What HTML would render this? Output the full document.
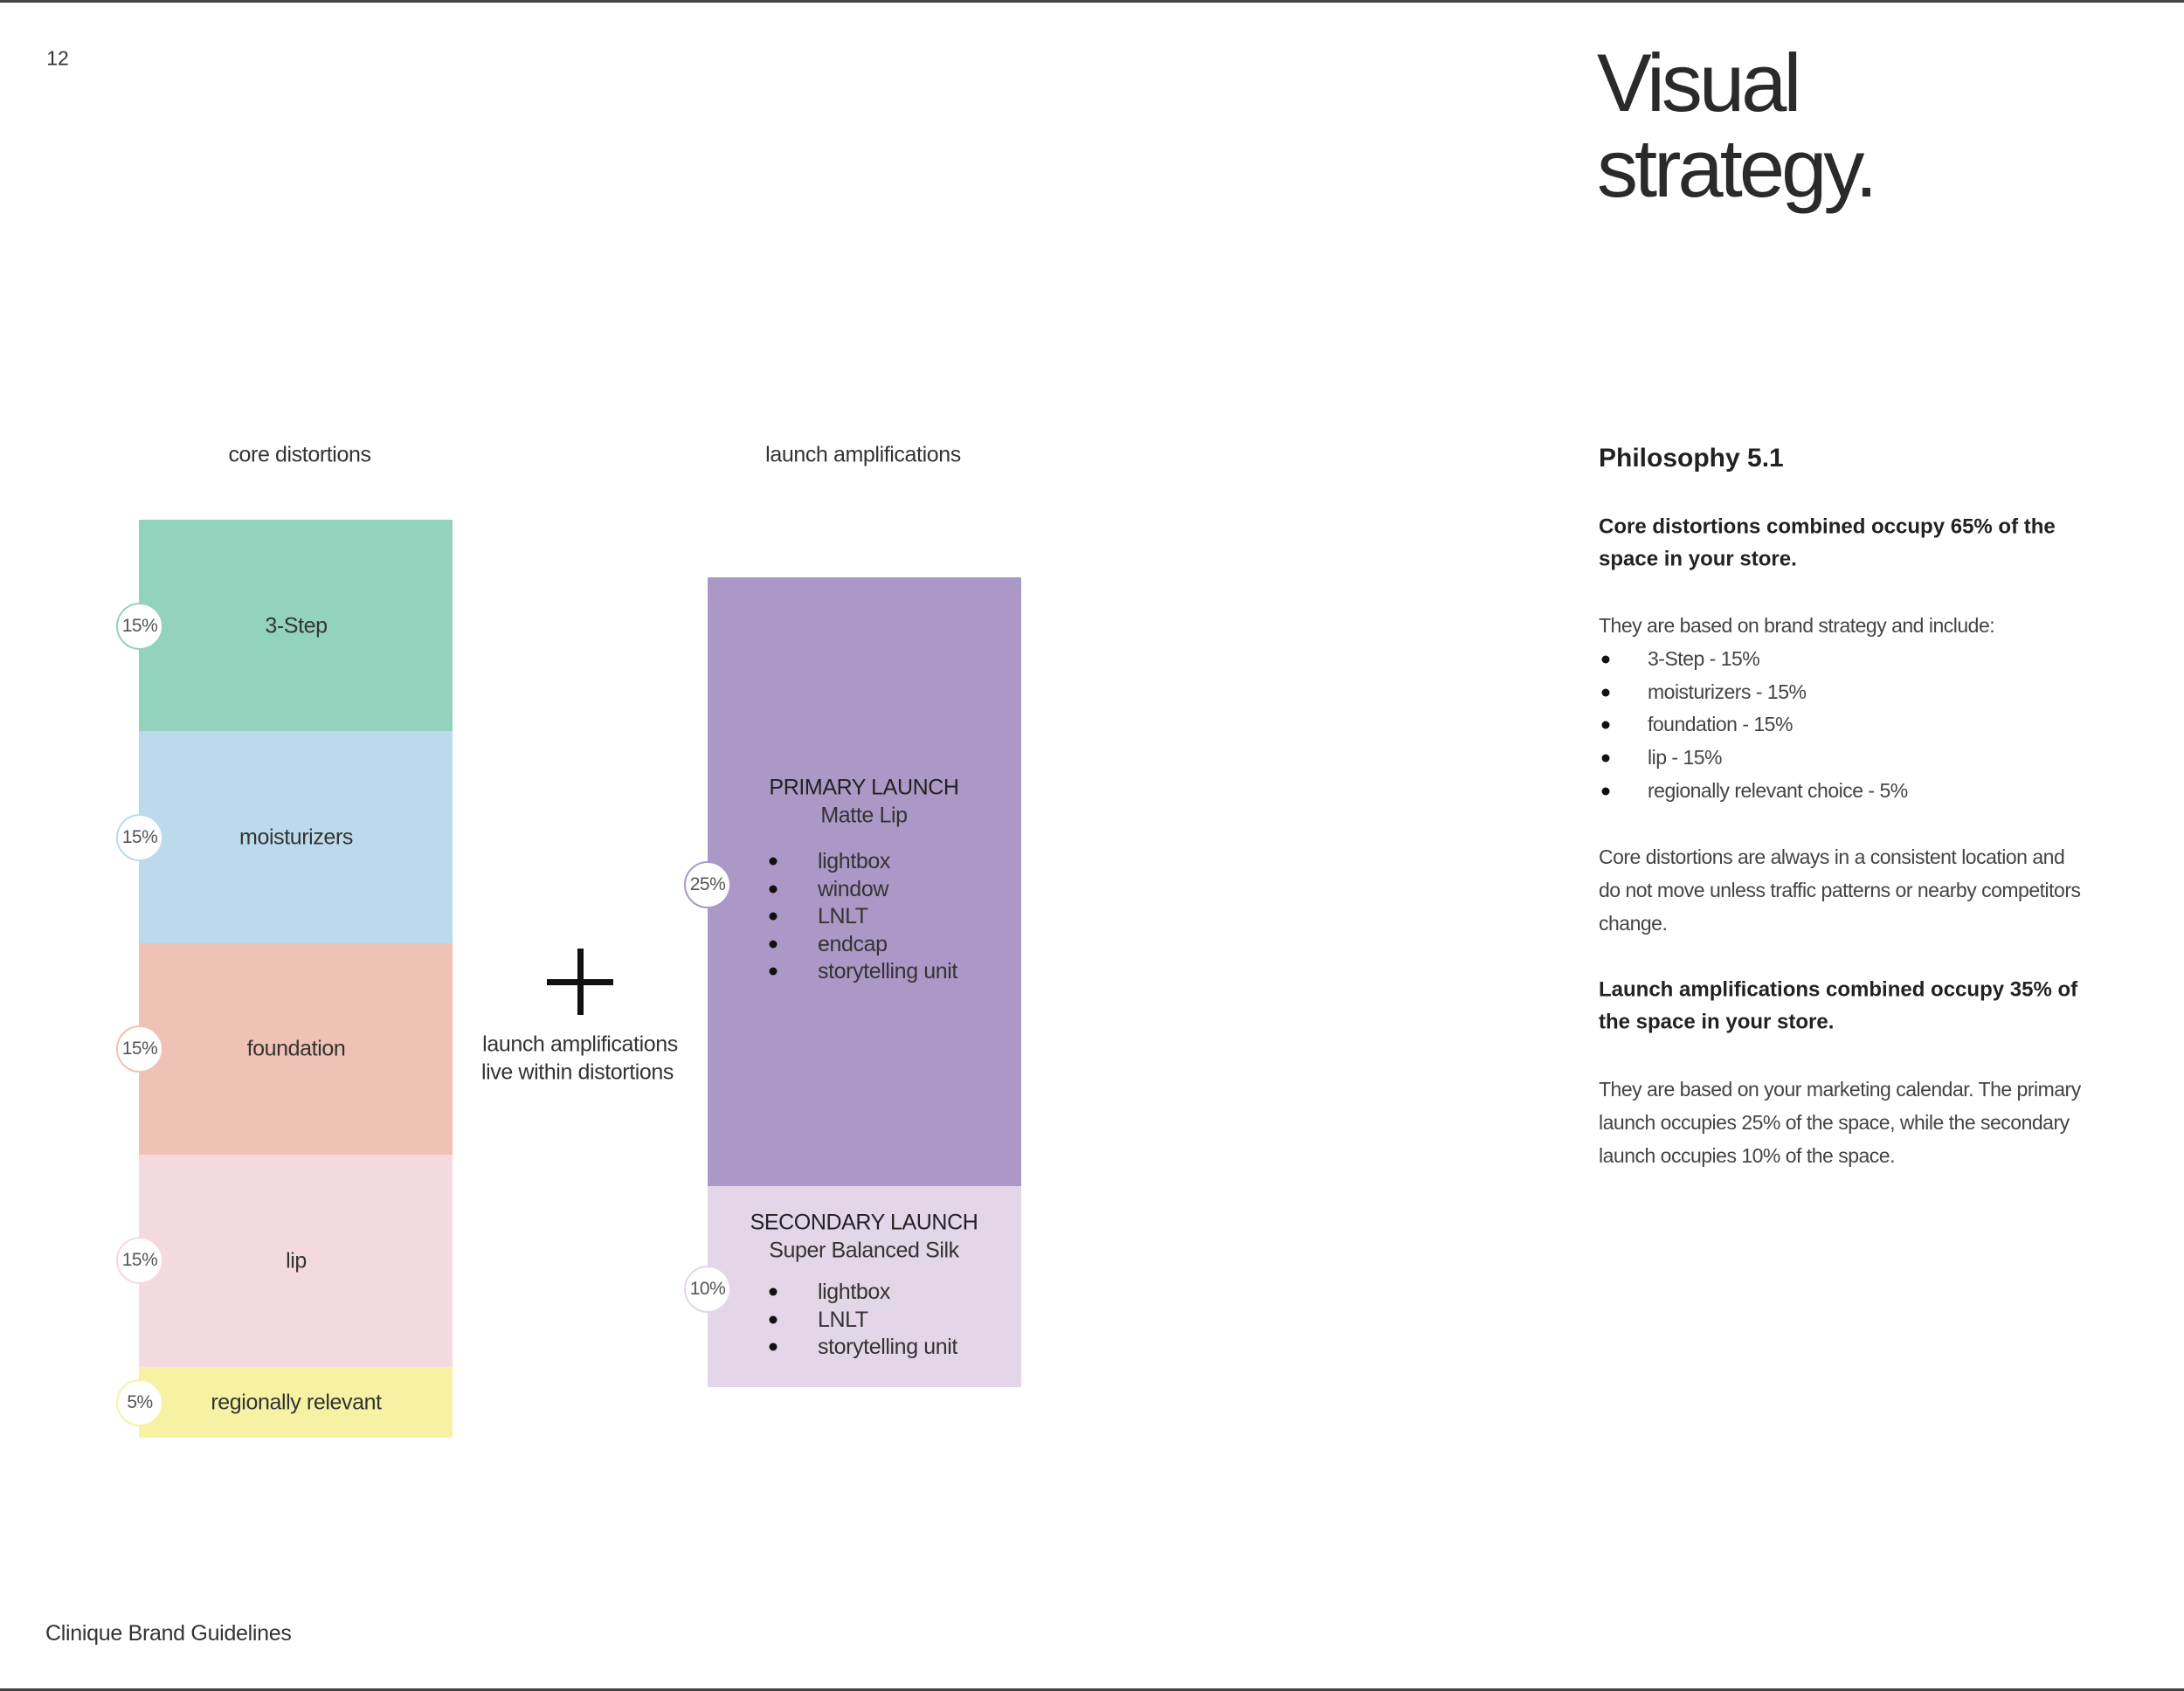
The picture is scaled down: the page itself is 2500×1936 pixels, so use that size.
<!DOCTYPE html>
<html><head><meta charset="utf-8"><style>
*{margin:0;padding:0;box-sizing:border-box}
body{width:2500px;height:1936px;position:relative;background:#fff;font-family:"Liberation Sans",sans-serif;color:#333;overflow:hidden}
.a{position:absolute;white-space:nowrap}
.c{position:absolute;white-space:nowrap;transform:translate(-50%,-50%);text-align:center}
.box{position:absolute}
.circ{position:absolute;width:54px;height:54px;border-radius:50%;background:#fff;border:2px solid;transform:translate(-50%,-50%);font-size:21px;line-height:50px;text-align:center;color:#555;letter-spacing:-0.5px}
.l{position:absolute;white-space:nowrap;font-size:23px;letter-spacing:-0.5px;color:#444;line-height:38px;transform:translateY(-50%)}
.b{position:absolute;white-space:nowrap;font-size:23px;font-weight:bold;color:#222;line-height:37px;transform:translateY(-50%)}
.t{font-size:25px;color:#333;letter-spacing:-0.4px}
.dot{position:absolute;width:9px;height:9px;border-radius:50%;background:#111;transform:translate(-50%,-50%)}
</style></head><body>
<div class="box" style="left:0;top:0;width:2500px;height:3px;background:#444"></div>
<div class="box" style="left:0;top:1933px;width:2500px;height:3px;background:#444"></div>
<div class="c" style="left:66px;top:67px;font-size:23px">12</div>
<div class="a" style="left:52px;top:1856px;font-size:25px;color:#333;letter-spacing:-0.3px">Clinique Brand Guidelines</div>

<div class="a" style="left:1828px;top:46px;font-size:94px;line-height:98px;color:#2a2a2a;letter-spacing:-4px;font-weight:300">Visual<br>strategy.</div>

<div class="c t" style="left:343px;top:521px">core distortions</div>
<div class="c t" style="left:988px;top:521px">launch amplifications</div>

<div class="box" style="left:159px;top:595px;width:359px;height:242px;background:#93d3bd"></div>
<div class="box" style="left:159px;top:837px;width:359px;height:243px;background:#bbdaeb"></div>
<div class="box" style="left:159px;top:1080px;width:359px;height:242px;background:#f0c1b5"></div>
<div class="box" style="left:159px;top:1322px;width:359px;height:243px;background:#f5d9e1"></div>
<div class="box" style="left:159px;top:1565px;width:359px;height:81px;background:#f7f1a4"></div>
<div class="c t" style="left:339px;top:717px">3-Step</div>
<div class="c t" style="left:339px;top:959px">moisturizers</div>
<div class="c t" style="left:339px;top:1201px">foundation</div>
<div class="c t" style="left:339px;top:1444px">lip</div>
<div class="c t" style="left:339px;top:1606px">regionally relevant</div>
<div class="circ" style="left:160px;top:717px;border-color:#93d3bd">15%</div>
<div class="circ" style="left:160px;top:959px;border-color:#bbdaeb">15%</div>
<div class="circ" style="left:160px;top:1201px;border-color:#f0c1b5">15%</div>
<div class="circ" style="left:160px;top:1443px;border-color:#f5d9e1">15%</div>
<div class="circ" style="left:160px;top:1606px;border-color:#f7f1a4">5%</div>

<div class="box" style="left:661px;top:1086px;width:7px;height:76px;background:#111"></div>
<div class="box" style="left:626px;top:1121px;width:76px;height:7px;background:#111"></div>
<div class="c t" style="left:664px;top:1196px">launch amplifications</div>
<div class="c t" style="left:661px;top:1228px">live within distortions</div>

<div class="box" style="left:810px;top:661px;width:359px;height:697px;background:#ab98c7"></div>
<div class="box" style="left:810px;top:1358px;width:359px;height:230px;background:#e3d6e8"></div>
<div class="c t" style="left:989px;top:902px;color:#222">PRIMARY LAUNCH</div>
<div class="c t" style="left:989px;top:934px">Matte Lip</div>
<div class="dot" style="left:885px;top:986px"></div><div class="l t" style="left:936px;top:986px">lightbox</div>
<div class="dot" style="left:885px;top:1018px"></div><div class="l t" style="left:936px;top:1018px">window</div>
<div class="dot" style="left:885px;top:1049px"></div><div class="l t" style="left:936px;top:1049px">LNLT</div>
<div class="dot" style="left:885px;top:1081px"></div><div class="l t" style="left:936px;top:1081px">endcap</div>
<div class="dot" style="left:885px;top:1112px"></div><div class="l t" style="left:936px;top:1112px">storytelling unit</div>
<div class="c t" style="left:989px;top:1400px;color:#222">SECONDARY LAUNCH</div>
<div class="c t" style="left:989px;top:1432px">Super Balanced Silk</div>
<div class="dot" style="left:885px;top:1479px"></div><div class="l t" style="left:936px;top:1479px">lightbox</div>
<div class="dot" style="left:885px;top:1511px"></div><div class="l t" style="left:936px;top:1511px">LNLT</div>
<div class="dot" style="left:885px;top:1542px"></div><div class="l t" style="left:936px;top:1542px">storytelling unit</div>
<div class="circ" style="left:810px;top:1013px;border-color:#ab98c7">25%</div>
<div class="circ" style="left:810px;top:1476px;border-color:#e3d6e8">10%</div>

<div class="a" style="left:1830px;top:508px;font-size:30px;font-weight:bold;color:#222">Philosophy 5.1</div>
<div class="b" style="left:1830px;top:603px;font-size:24px">Core distortions combined occupy 65% of the</div>
<div class="b" style="left:1830px;top:640px;font-size:24px">space in your store.</div>
<div class="l" style="left:1830px;top:716px">They are based on brand strategy and include:</div>
<div class="dot" style="left:1838px;top:755px"></div><div class="l" style="left:1886px;top:754px">3-Step - 15%</div>
<div class="dot" style="left:1838px;top:793px"></div><div class="l" style="left:1886px;top:792px">moisturizers - 15%</div>
<div class="dot" style="left:1838px;top:830px"></div><div class="l" style="left:1886px;top:829px">foundation - 15%</div>
<div class="dot" style="left:1838px;top:868px"></div><div class="l" style="left:1886px;top:867px">lip - 15%</div>
<div class="dot" style="left:1838px;top:906px"></div><div class="l" style="left:1886px;top:905px">regionally relevant choice - 5%</div>
<div class="l" style="left:1830px;top:981px">Core distortions are always in a consistent location and</div>
<div class="l" style="left:1830px;top:1019px">do not move unless traffic patterns or nearby competitors</div>
<div class="l" style="left:1830px;top:1057px">change.</div>
<div class="b" style="left:1830px;top:1133px;font-size:24px">Launch amplifications combined occupy 35% of</div>
<div class="b" style="left:1830px;top:1170px;font-size:24px">the space in your store.</div>
<div class="l" style="left:1830px;top:1247px">They are based on your marketing calendar. The primary</div>
<div class="l" style="left:1830px;top:1285px">launch occupies 25% of the space, while the secondary</div>
<div class="l" style="left:1830px;top:1323px">launch occupies 10% of the space.</div>
</body></html>
